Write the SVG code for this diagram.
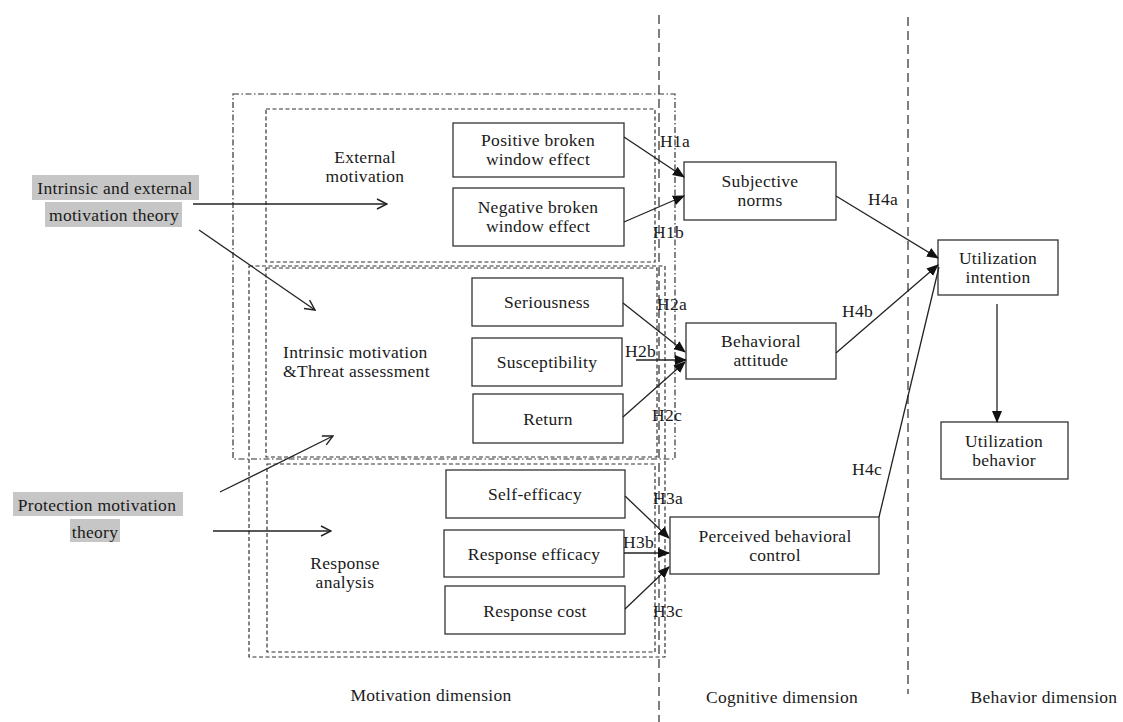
<svg xmlns="http://www.w3.org/2000/svg" width="1123" height="722" viewBox="0 0 1123 722">
<style>
text{font-family:"Liberation Serif","Times New Roman",serif;font-size:17.5px;letter-spacing:0.3px;fill:#1a1a1a}
.c{text-anchor:middle}
.box{fill:#fff;stroke:#333;stroke-width:1.3}
.dash{fill:none;stroke:#333;stroke-width:1.2;stroke-dasharray:4 2.5}
.dd{fill:none;stroke:#333;stroke-width:1.2;stroke-dasharray:6 2.5 1.5 2.5}
.div{fill:none;stroke:#555;stroke-width:1.5;stroke-dasharray:9 5}
.ln{fill:none;stroke:#222;stroke-width:1.3}
.hl{fill:#c6c6c6}
</style>
<defs>
<marker id="open" viewBox="0 0 12 12" refX="11" refY="6" markerWidth="12" markerHeight="12" markerUnits="userSpaceOnUse" orient="auto">
<path d="M1,1 L11,6 L1,11" fill="none" stroke="#222" stroke-width="1.4"/>
</marker>
<marker id="fill" viewBox="0 0 12 12" refX="11" refY="6" markerWidth="12" markerHeight="12" markerUnits="userSpaceOnUse" orient="auto">
<path d="M0,1 L12,6 L0,11 Z" fill="#111"/>
</marker>
</defs>
<rect width="1123" height="722" fill="#fff"/>

<g id="frames">
<line class="div" x1="659" y1="15" x2="659" y2="722"/>
<line class="div" x1="908" y1="17" x2="908" y2="694"/>
<rect class="dd" x="233" y="94" width="442" height="365"/>
<rect class="dash" x="249" y="266" width="416" height="391"/>
<rect class="dash" x="266" y="109" width="389" height="153"/>
<rect class="dash" x="266" y="268" width="391" height="189"/>
<rect class="dash" x="267" y="464" width="388" height="188"/>
</g>

<g id="labels">
<text class="c" x="365" y="163">External</text>
<text class="c" x="365" y="182">motivation</text>
<text x="283" y="358">Intrinsic motivation</text>
<text x="283" y="377">&amp;Threat assessment</text>
<text class="c" x="345" y="569">Response</text>
<text class="c" x="345" y="588">analysis</text>
<text class="c" x="431" y="701">Motivation dimension</text>
<text class="c" x="782" y="703">Cognitive dimension</text>
<text class="c" x="1044" y="703">Behavior dimension</text>
</g>

<g id="theory-ie">
<rect class="hl" x="32" y="175" width="167" height="25"/>
<rect class="hl" x="45" y="202" width="137" height="25"/>
<text class="c" x="115" y="194">Intrinsic and external</text>
<text class="c" x="114" y="221">motivation theory</text>
</g>
<g id="theory-pm">
<rect class="hl" x="13" y="492" width="170" height="24"/>
<rect class="hl" x="70" y="519" width="50" height="23"/>
<text class="c" x="97" y="511">Protection motivation</text>
<text class="c" x="95" y="538">theory</text>
</g>

<g id="n-pos"><rect class="box" x="453" y="123" width="171" height="54"/><text class="c" x="538" y="146">Positive broken</text><text class="c" x="538" y="165">window effect</text></g>
<g id="n-neg"><rect class="box" x="453" y="188" width="171" height="58"/><text class="c" x="538" y="213">Negative broken</text><text class="c" x="538" y="232">window effect</text></g>
<g id="n-ser"><rect class="box" x="472" y="278" width="151" height="48"/><text class="c" x="547" y="308">Seriousness</text></g>
<g id="n-sus"><rect class="box" x="472" y="338" width="150" height="48"/><text class="c" x="547" y="368">Susceptibility</text></g>
<g id="n-ret"><rect class="box" x="473" y="394" width="150" height="49"/><text class="c" x="548" y="425">Return</text></g>
<g id="n-self"><rect class="box" x="446" y="470" width="179" height="48"/><text class="c" x="535" y="500">Self-efficacy</text></g>
<g id="n-reff"><rect class="box" x="444" y="530" width="180" height="47"/><text class="c" x="534" y="560">Response efficacy</text></g>
<g id="n-rcost"><rect class="box" x="445" y="586" width="180" height="48"/><text class="c" x="535" y="617">Response cost</text></g>
<g id="n-sn"><rect class="box" x="684" y="162" width="152" height="58"/><text class="c" x="760" y="187">Subjective</text><text class="c" x="760" y="206">norms</text></g>
<g id="n-ba"><rect class="box" x="686" y="323" width="150" height="56"/><text class="c" x="761" y="347">Behavioral</text><text class="c" x="761" y="366">attitude</text></g>
<g id="n-pbc"><rect class="box" x="670" y="517" width="209" height="57"/><text class="c" x="775" y="542">Perceived behavioral</text><text class="c" x="775" y="561">control</text></g>
<g id="n-ui"><rect class="box" x="938" y="240" width="120" height="55"/><text class="c" x="998" y="264">Utilization</text><text class="c" x="998" y="283">intention</text></g>
<g id="n-ub"><rect class="box" x="941" y="422" width="127" height="57"/><text class="c" x="1004" y="447">Utilization</text><text class="c" x="1004" y="466">behavior</text></g>

<g id="connectors">
<line class="ln" x1="193" y1="204" x2="387" y2="204" marker-end="url(#open)"/>
<line class="ln" x1="199" y1="230" x2="315" y2="310" marker-end="url(#open)"/>
<line class="ln" x1="220" y1="492" x2="333" y2="436" marker-end="url(#open)"/>
<line class="ln" x1="213" y1="531" x2="331" y2="531" marker-end="url(#open)"/>

<line class="ln" x1="624" y1="137" x2="684" y2="177" marker-end="url(#fill)"/>
<line class="ln" x1="624" y1="222" x2="684" y2="196" marker-end="url(#fill)"/>
<line class="ln" x1="623" y1="303" x2="685" y2="352" marker-end="url(#fill)"/>
<line class="ln" x1="636" y1="360" x2="686" y2="360" marker-end="url(#fill)"/>
<line class="ln" x1="623" y1="417" x2="685" y2="362" marker-end="url(#fill)"/>
<line class="ln" x1="625" y1="496" x2="669" y2="538" marker-end="url(#fill)"/>
<line class="ln" x1="624" y1="553" x2="669" y2="553" marker-end="url(#fill)"/>
<line class="ln" x1="625" y1="609" x2="669" y2="567" marker-end="url(#fill)"/>
<line class="ln" x1="836" y1="196" x2="938" y2="258" marker-end="url(#fill)"/>
<line class="ln" x1="836" y1="353" x2="938" y2="265" marker-end="url(#fill)"/>
<line class="ln" x1="879" y1="517" x2="939" y2="267"/>
<line class="ln" x1="997" y1="304" x2="997" y2="422" marker-end="url(#fill)"/>
</g>

<g id="hyp">
<text x="660" y="147">H1a</text>
<text x="653" y="238">H1b</text>
<text x="657" y="310">H2a</text>
<text x="625" y="357">H2b</text>
<text x="652" y="421">H2c</text>
<text x="653" y="504">H3a</text>
<text x="623" y="548">H3b</text>
<text x="653" y="617">H3c</text>
<text x="868" y="205">H4a</text>
<text x="842" y="317">H4b</text>
<text x="852" y="475">H4c</text>
</g>
</svg>
